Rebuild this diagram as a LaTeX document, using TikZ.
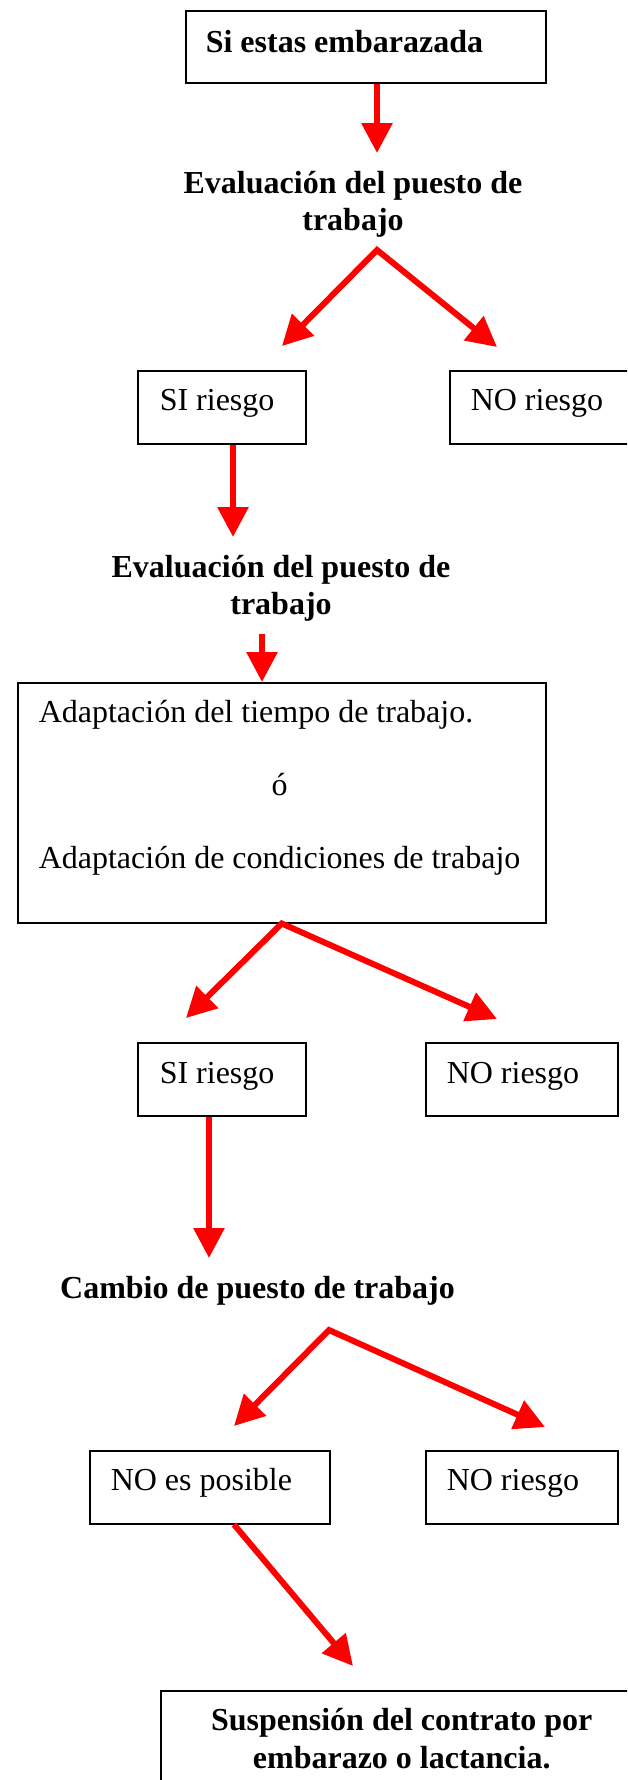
\documentclass[tikz,border=0pt]{standalone}
\usepackage{fontspec}
\setmainfont{Liberation Serif}
\usetikzlibrary{arrows.meta}
\newcommand\natspace{\spaceskip=0pt\xspaceskip=0pt\relax}
\begin{document}
\begin{tikzpicture}[x=1pt,y=-1pt,
  every node/.style={font=\fontsize{32}{37}\selectfont},
  box/.style={draw=black, line width=1.5pt, anchor=north west, inner ysep=0pt, align=left},
  arr/.style={draw=red, line width=6pt, -{Triangle[length=30pt,width=30pt]}},
  fork/.style={draw=red, line width=6pt, line join=miter, {Triangle[length=30pt,width=30pt]}-{Triangle[length=30pt,width=30pt]}},
  lbl/.style={inner sep=0pt, anchor=base, font=\fontsize{32}{37}\selectfont\bfseries}
]
\useasboundingbox (0,0) rectangle (627,1780);
\clip (0,0) rectangle (627,1780);
\fill[white] (0,0) rectangle (627,1780);

% top box
\node[box, font=\fontsize{32}{37}\selectfont\bfseries, inner xsep=20pt, text width=320pt, text height=42pt, text depth=30pt] (box1) at (185,10) {\natspace Si estas embarazada};
\coordinate (t1) at (377,153);
\draw[arr] (box1.south -| t1) -- (t1);

\node[lbl] (eval1) at (353,193) {\begin{tabular}[t]{@{}c@{}}Evaluación del puesto de\\ trabajo\end{tabular}};

\coordinate (c1) at (377,250);
\coordinate (l1) at (282,346);
\coordinate (r1) at (497,347);
\draw[fork] (l1) -- (c1) -- (r1);

\node[box, inner xsep=22pt, text width=124pt, text height=40pt, text depth=33pt] (si1) at (137,370) {\natspace SI riesgo};
\node[box, inner xsep=21pt, text width=200pt, text height=40pt, text depth=33pt] (no1) at (449,370) {\natspace NO riesgo};

\coordinate (t2) at (233,537);
\draw[arr] (si1.south -| t2) -- (t2);

\node[lbl] (eval2) at (281,577) {\begin{tabular}[t]{@{}c@{}}Evaluación del puesto de\\ trabajo\end{tabular}};

\node[box, font=\fontsize{32}{36.5}\selectfont, inner xsep=21pt, text width=486pt, text height=40pt, text depth=200pt] (adapt) at (17,682) {\natspace\begin{tabular}[t]{@{}l@{}}Adaptación del tiempo de trabajo.\\ \\ \multicolumn{1}{@{}c@{}}{ó}\\ \\ Adaptación de condiciones de trabajo\end{tabular}};

\coordinate (s3) at (262,634);
\draw[arr] (s3) -- (adapt.north -| s3);

\coordinate (l2) at (186,1018);
\coordinate (r2) at (497,1019);
\draw[fork] (l2) -- (adapt.south) -- (r2);

\node[box, inner xsep=22pt, text width=124pt, text height=41pt, text depth=32pt] (si2) at (137,1042) {\natspace SI riesgo};
\node[box, inner xsep=21pt, text width=150pt, text height=41pt, text depth=32pt] (no2) at (425,1042) {\natspace NO riesgo};

\coordinate (t4) at (209,1258);
\draw[arr] (si2.south -| t4) -- (t4);

\node[lbl] (cambio) at (257.5,1298) {Cambio de puesto de trabajo};

\coordinate (c3) at (329,1330);
\coordinate (l3) at (234,1426);
\coordinate (r3) at (545,1427);
\draw[fork] (l3) -- (c3) -- (r3);

\node[box, inner xsep=21pt, text width=198pt, text height=40pt, text depth=33pt] (nopos) at (89,1450) {\natspace NO es posible};
\node[box, inner xsep=21pt, text width=150pt, text height=40pt, text depth=33pt] (no3) at (425,1450) {\natspace NO riesgo};

\coordinate (s5) at (234,1523);
\coordinate (t5) at (353,1666);
\draw[arr] (nopos.south -| s5) -- (t5);

\node[box, align=center, font=\fontsize{32}{38}\selectfont\bfseries, inner xsep=10pt, text width=462pt, text height=40pt, text depth=70pt] (susp) at (160,1690) {\natspace\begin{tabular}[t]{@{}c@{}}Suspensión del contrato por\\ embarazo o lactancia.\end{tabular}};
\end{tikzpicture}
\end{document}
